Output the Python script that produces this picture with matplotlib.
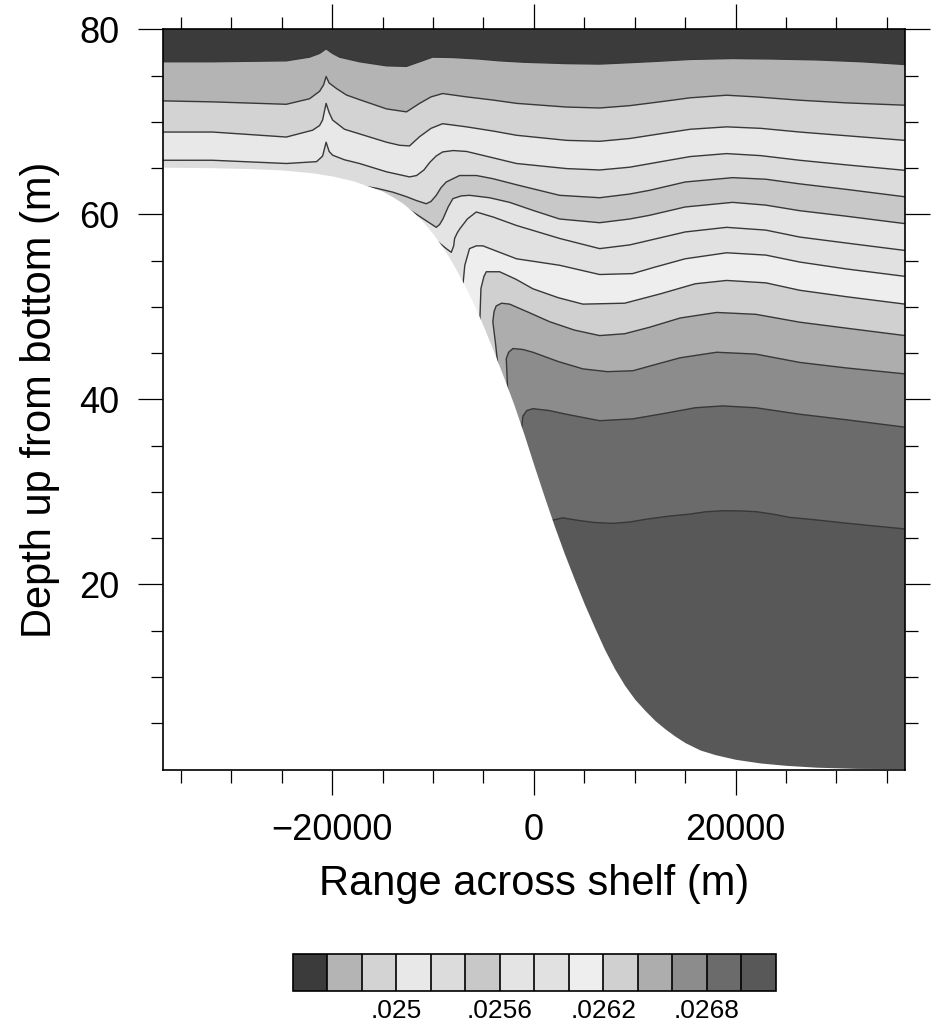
import numpy as np
import matplotlib
matplotlib.use("Agg")
import matplotlib.pyplot as plt
import matplotlib.cm as cm
from matplotlib.colors import ListedColormap, BoundaryNorm

plt.rcParams['font.family'] = ['Liberation Sans', 'DejaVu Sans']

# contour levels and fill colours (band above the first line .. band below the last)
levels = [0.0246, 0.0248, 0.0250, 0.0252, 0.0254, 0.0256, 0.0258,
          0.0260, 0.0262, 0.0264, 0.0266, 0.0268, 0.0270]
cbar_ticks = [0.0250, 0.0256, 0.0262, 0.0268]
band_colors = ['#3b3b3b', '#b4b4b4', '#d3d3d3', '#e8e8e8', '#dcdcdc', '#c8c8c8',
               '#e4e4e4', '#e1e1e1', '#eeeeee', '#d0d0d0', '#adadad', '#8c8c8c',
               '#6b6b6b', '#585858']

x1 = [-36800, -31860, -24540, -22240, -21250, -20600, -19960, -19270, -17290, -14610,
      -12630, -11330, -10040, -8060, -5500, -3400, -1000, 3240, 6520, 9500, 12460,
      15500, 19700, 23500, 28040, 32500, 36800]
z1 = [76.5, 76.5, 76.6, 77.0, 77.4, 77.9, 77.4, 77.0, 76.5, 76.06,
      76.0, 76.5, 77.0, 76.96, 76.8, 76.6, 76.45, 76.3, 76.25, 76.4, 76.56,
      76.75, 76.85, 76.8, 76.7, 76.5, 76.2]

x2 = [-36800, -31860, -24540, -22240, -21250, -20850, -20600, -20300, -19570, -18580,
      -17290, -14610, -12630, -11330, -10200, -9050, -6670, -4000, -1720, 3240, 6520,
      9500, 12460, 15500, 19110, 22000, 26350, 31000, 36800]
z2 = [72.27, 72.16, 71.9, 72.5, 73.3, 74.0, 74.9, 74.2, 73.6, 72.9,
      72.4, 71.4, 71.08, 72.0, 72.7, 73.06, 72.7, 72.35, 72.0, 71.6, 71.5,
      71.75, 72.16, 72.6, 72.88, 72.7, 72.34, 72.05, 71.8]

x3 = [-36800, -31860, -24540, -21940, -21250, -20950, -20600, -20300, -19960, -18780,
      -17290, -14610, -13320, -12330, -11330, -10200, -9050, -6670, -4000, -1720, 3240,
      6520, 9500, 12460, 15500, 19110, 22500, 26350, 31000, 36800]
z3 = [68.9, 68.9, 68.36, 69.1, 69.6, 70.2, 72.0, 71.0, 70.2, 69.2,
      68.7, 67.8, 67.47, 67.4, 68.4, 69.3, 69.8, 69.46, 69.0, 68.55, 68.0,
      67.9, 68.2, 68.7, 69.2, 69.46, 69.3, 68.9, 68.5, 68.0]

x4 = [-36800, -31860, -24540, -21550, -20950, -20600, -20300, -19960, -18780, -17290,
      -14610, -12330, -11630, -10900, -10340, -9700, -9050, -8000, -6670, -4000, -1720,
      3240, 6520, 9500, 12460, 15500, 19110, 22500, 26350, 31000, 36800]
z4 = [65.85, 65.85, 65.5, 65.7, 66.3, 67.8, 66.8, 66.4, 65.9, 65.5,
      64.6, 64.05, 64.2, 64.8, 65.6, 66.3, 66.75, 66.9, 66.8, 66.1, 65.5,
      64.95, 64.8, 65.1, 65.67, 66.25, 66.57, 66.35, 65.85, 65.35, 64.76]

x5 = [-17620, -15500, -13980, -12600, -11660, -10670, -10200, -9680, -9200, -8690,
      -7370, -5700, -4070, -1720, 2550, 6520, 9500, 11470, 15000, 19700,
      23000, 26350, 31000, 36800]
z5 = [63.2, 62.8, 62.4, 61.9, 61.5, 61.15, 61.4, 62.06, 62.9, 63.5,
      64.2, 64.2, 63.86, 63.2, 62.06, 61.8, 62.2, 62.6, 63.5, 63.97,
      63.8, 63.3, 62.7, 61.9]

x6 = [-14310, -13100, -12000, -10800, -9680, -9350, -9020, -8500, -8030, -7200,
      -6380, -4400, -2410, 0, 2550, 6520, 9500, 11470, 15000, 19700,
      23000, 26350, 31000, 36800]
z6 = [61.4, 60.9, 60.26, 59.4, 58.6, 58.9, 59.5, 60.8, 61.7, 62.0,
      62.06, 61.8, 61.3, 60.4, 59.5, 59.1, 59.5, 59.9, 60.8, 61.3,
      61.0, 60.4, 59.8, 59.0]

x7 = [-10670, -9700, -8690, -8190, -7950, -7860, -7600, -7370, -6600, -5710,
      -4000, -1720, 2550, 6520, 9500, 11470, 15000, 19110, 23000, 26350,
      31000, 36800]
z7 = [58.0, 57.2, 56.3, 55.9, 56.6, 57.4, 58.0, 58.4, 59.5, 60.26,
      59.7, 58.8, 57.4, 56.3, 56.7, 57.2, 58.1, 58.6, 58.3, 57.55,
      56.9, 56.1]

x8 = [-7040, -6850, -6380, -5700, -5060, -3400, -1720, 2550, 6520, 9790,
      12000, 15000, 19110, 23000, 26350, 31000, 36800]
z8 = [52.3, 54.5, 56.3, 56.6, 56.6, 55.9, 55.2, 54.5, 53.5, 53.6,
      54.3, 55.2, 55.85, 55.6, 54.85, 54.1, 53.3]

x9 = [-5380, -5250, -4950, -4720, -3400, -1800, -100, 2400, 4860, 9000,
      12500, 16000, 19110, 23000, 26350, 31000, 36800]
z9 = [47.8, 52.0, 53.3, 53.8, 53.8, 53.0, 51.96, 51.0, 50.3, 50.4,
      51.4, 52.5, 52.86, 52.6, 51.8, 51.1, 50.3]

x10 = [-3500, -3800, -4070, -3950, -3740, -3200, -2410, -500, 1560, 4000,
       6520, 9000, 11470, 14500, 18120, 22000, 26350, 31000, 36800]
z10 = [43.0, 46.0, 48.4, 49.5, 50.1, 50.4, 50.3, 49.4, 48.4, 47.5,
       46.9, 47.1, 47.8, 48.8, 49.4, 49.2, 48.35, 47.7, 46.9]

x11 = [-2580, -2740, -2500, -2080, -1100, -100, 2400, 4860, 7300, 9820,
       11470, 14500, 18120, 22000, 26350, 31000, 36800]
z11 = [40.5, 44.4, 45.1, 45.5, 45.4, 45.1, 44.1, 43.3, 43.0, 43.1,
       43.6, 44.5, 45.1, 44.9, 44.0, 43.4, 42.76]

x12 = [-1250, -1090, -700, -100, 1500, 3210, 6520, 9820, 13000, 16000,
       18710, 22000, 26350, 31000, 36800]
z12 = [36.5, 38.2, 38.8, 39.0, 38.8, 38.4, 37.7, 37.9, 38.5, 39.1,
       39.3, 39.1, 38.4, 37.8, 37.0]

x13 = [1650, 2850, 4530, 6000, 7800, 9500, 11180, 13500, 15440, 17000,
       18710, 20500, 22080, 23700, 25360, 27800, 30310, 33500, 36800]
z13 = [26.9, 27.2, 26.9, 26.7, 26.6, 26.75, 27.06, 27.4, 27.6, 27.85,
       27.97, 27.95, 27.86, 27.6, 27.25, 27.0, 26.7, 26.35, 26.0]

# sea floor (m above deepest point)
bot_x = [-36800, -32000, -28000, -25000, -22000, -20000, -18000, -16500, -15000, -14000,
         -13000, -12000, -11000, -10000, -9000, -8000, -7000, -6000, -5000, -4000,
         -3000, -2000, -1000, 0, 1000, 2000, 3000, 4000, 5000, 6000,
         7000, 8000, 9000, 10000, 11000, 12000, 13000, 14000, 15000, 16500,
         18000, 20000, 22500, 25000, 28000, 32000, 36800]
bot_z = [65.1, 65.05, 64.95, 64.8, 64.5, 64.15, 63.65, 63.1, 62.5, 61.9,
         61.2, 60.3, 59.2, 57.9, 56.4, 54.6, 52.6, 50.4, 47.9, 45.2,
         42.4, 39.5, 36.3, 32.9, 29.6, 26.4, 23.4, 20.6, 17.9, 15.4,
         13.0, 10.9, 9.1, 7.6, 6.4, 5.3, 4.4, 3.6, 2.9, 2.1,
         1.6, 1.1, 0.7, 0.45, 0.25, 0.12, 0.1]

iso_x = [x1, x2, x3, x4, x5, x6, x7, x8, x9, x10, x11, x12, x13]
iso_z = [z1, z2, z3, z4, z5, z6, z7, z8, z9, z10, z11, z12, z13]

fig = plt.figure(figsize=(9.31, 10.26), dpi=100)
ax = fig.add_axes([0.1748, 0.25, 0.7973, 0.7214])

x_lo, x_hi = -36800, 36800
y_lo, y_hi = 0, 80

# paint bands from the deepest upwards, each one above its isoline
ax.fill_between([x_lo, x_hi], y_lo - 1, y_hi + 1, color=band_colors[-1], lw=0, zorder=1)
for k in range(len(iso_x) - 1, -1, -1):
    xs = np.asarray(iso_x[k], float)
    zs = np.asarray(iso_z[k], float)
    if xs[0] > x_lo:
        # line begins on the slope: close it under the sea floor
        xs = np.r_[x_lo, xs]
        zs = np.r_[y_lo - 1, zs]
    ax.fill(np.r_[xs, x_hi, x_lo], np.r_[zs, y_hi + 1, y_hi + 1],
            color=band_colors[k], lw=0, zorder=1)

for xs, zs in zip(iso_x, iso_z):
    ax.plot(xs, zs, color='#383838', lw=1.0, zorder=2, solid_joinstyle='round')

ax.fill_between(bot_x, y_lo - 1, bot_z, color='white', lw=0, zorder=3)

ax.set_xlim(x_lo, x_hi)
ax.set_ylim(y_lo, y_hi)
ax.set_xticks([-20000, 0, 20000])
ax.set_xticks(np.arange(-35000, 35001, 5000), minor=True)
ax.set_yticks([20, 40, 60, 80])
ax.set_yticks(np.arange(5, 80, 5), minor=True)
ax.tick_params(which='both', direction='out', top=True, right=True, width=0.9,
               labelsize=26, pad=13)
ax.tick_params(which='major', length=18)
ax.tick_params(which='minor', length=9)
for s in ax.spines.values():
    s.set_linewidth(1.2)
    s.set_zorder(5)

ax.set_xlabel('Range across shelf (m)', fontsize=30, labelpad=12)
ax.set_ylabel('Depth up from bottom (m)', fontsize=30, labelpad=14)

# label bar
bounds = [levels[0] - 0.0002] + levels + [levels[-1] + 0.0002]
cmap = ListedColormap(band_colors)
norm = BoundaryNorm(bounds, cmap.N)
cax = fig.add_axes([0.3144, 0.0344, 0.5191, 0.0358])
cb = fig.colorbar(cm.ScalarMappable(norm=norm, cmap=cmap), cax=cax,
                  orientation='horizontal', drawedges=True, ticks=cbar_ticks)
cb.ax.minorticks_off()
cb.ax.set_xticklabels([('%g' % v).lstrip('0') for v in cbar_ticks])
cb.ax.tick_params(which='both', length=0, labelsize=19, pad=6)
cb.outline.set_linewidth(1.2)
cb.dividers.set_color('black')
cb.dividers.set_linewidth(1.2)

fig.savefig('out.png', dpi=100)
